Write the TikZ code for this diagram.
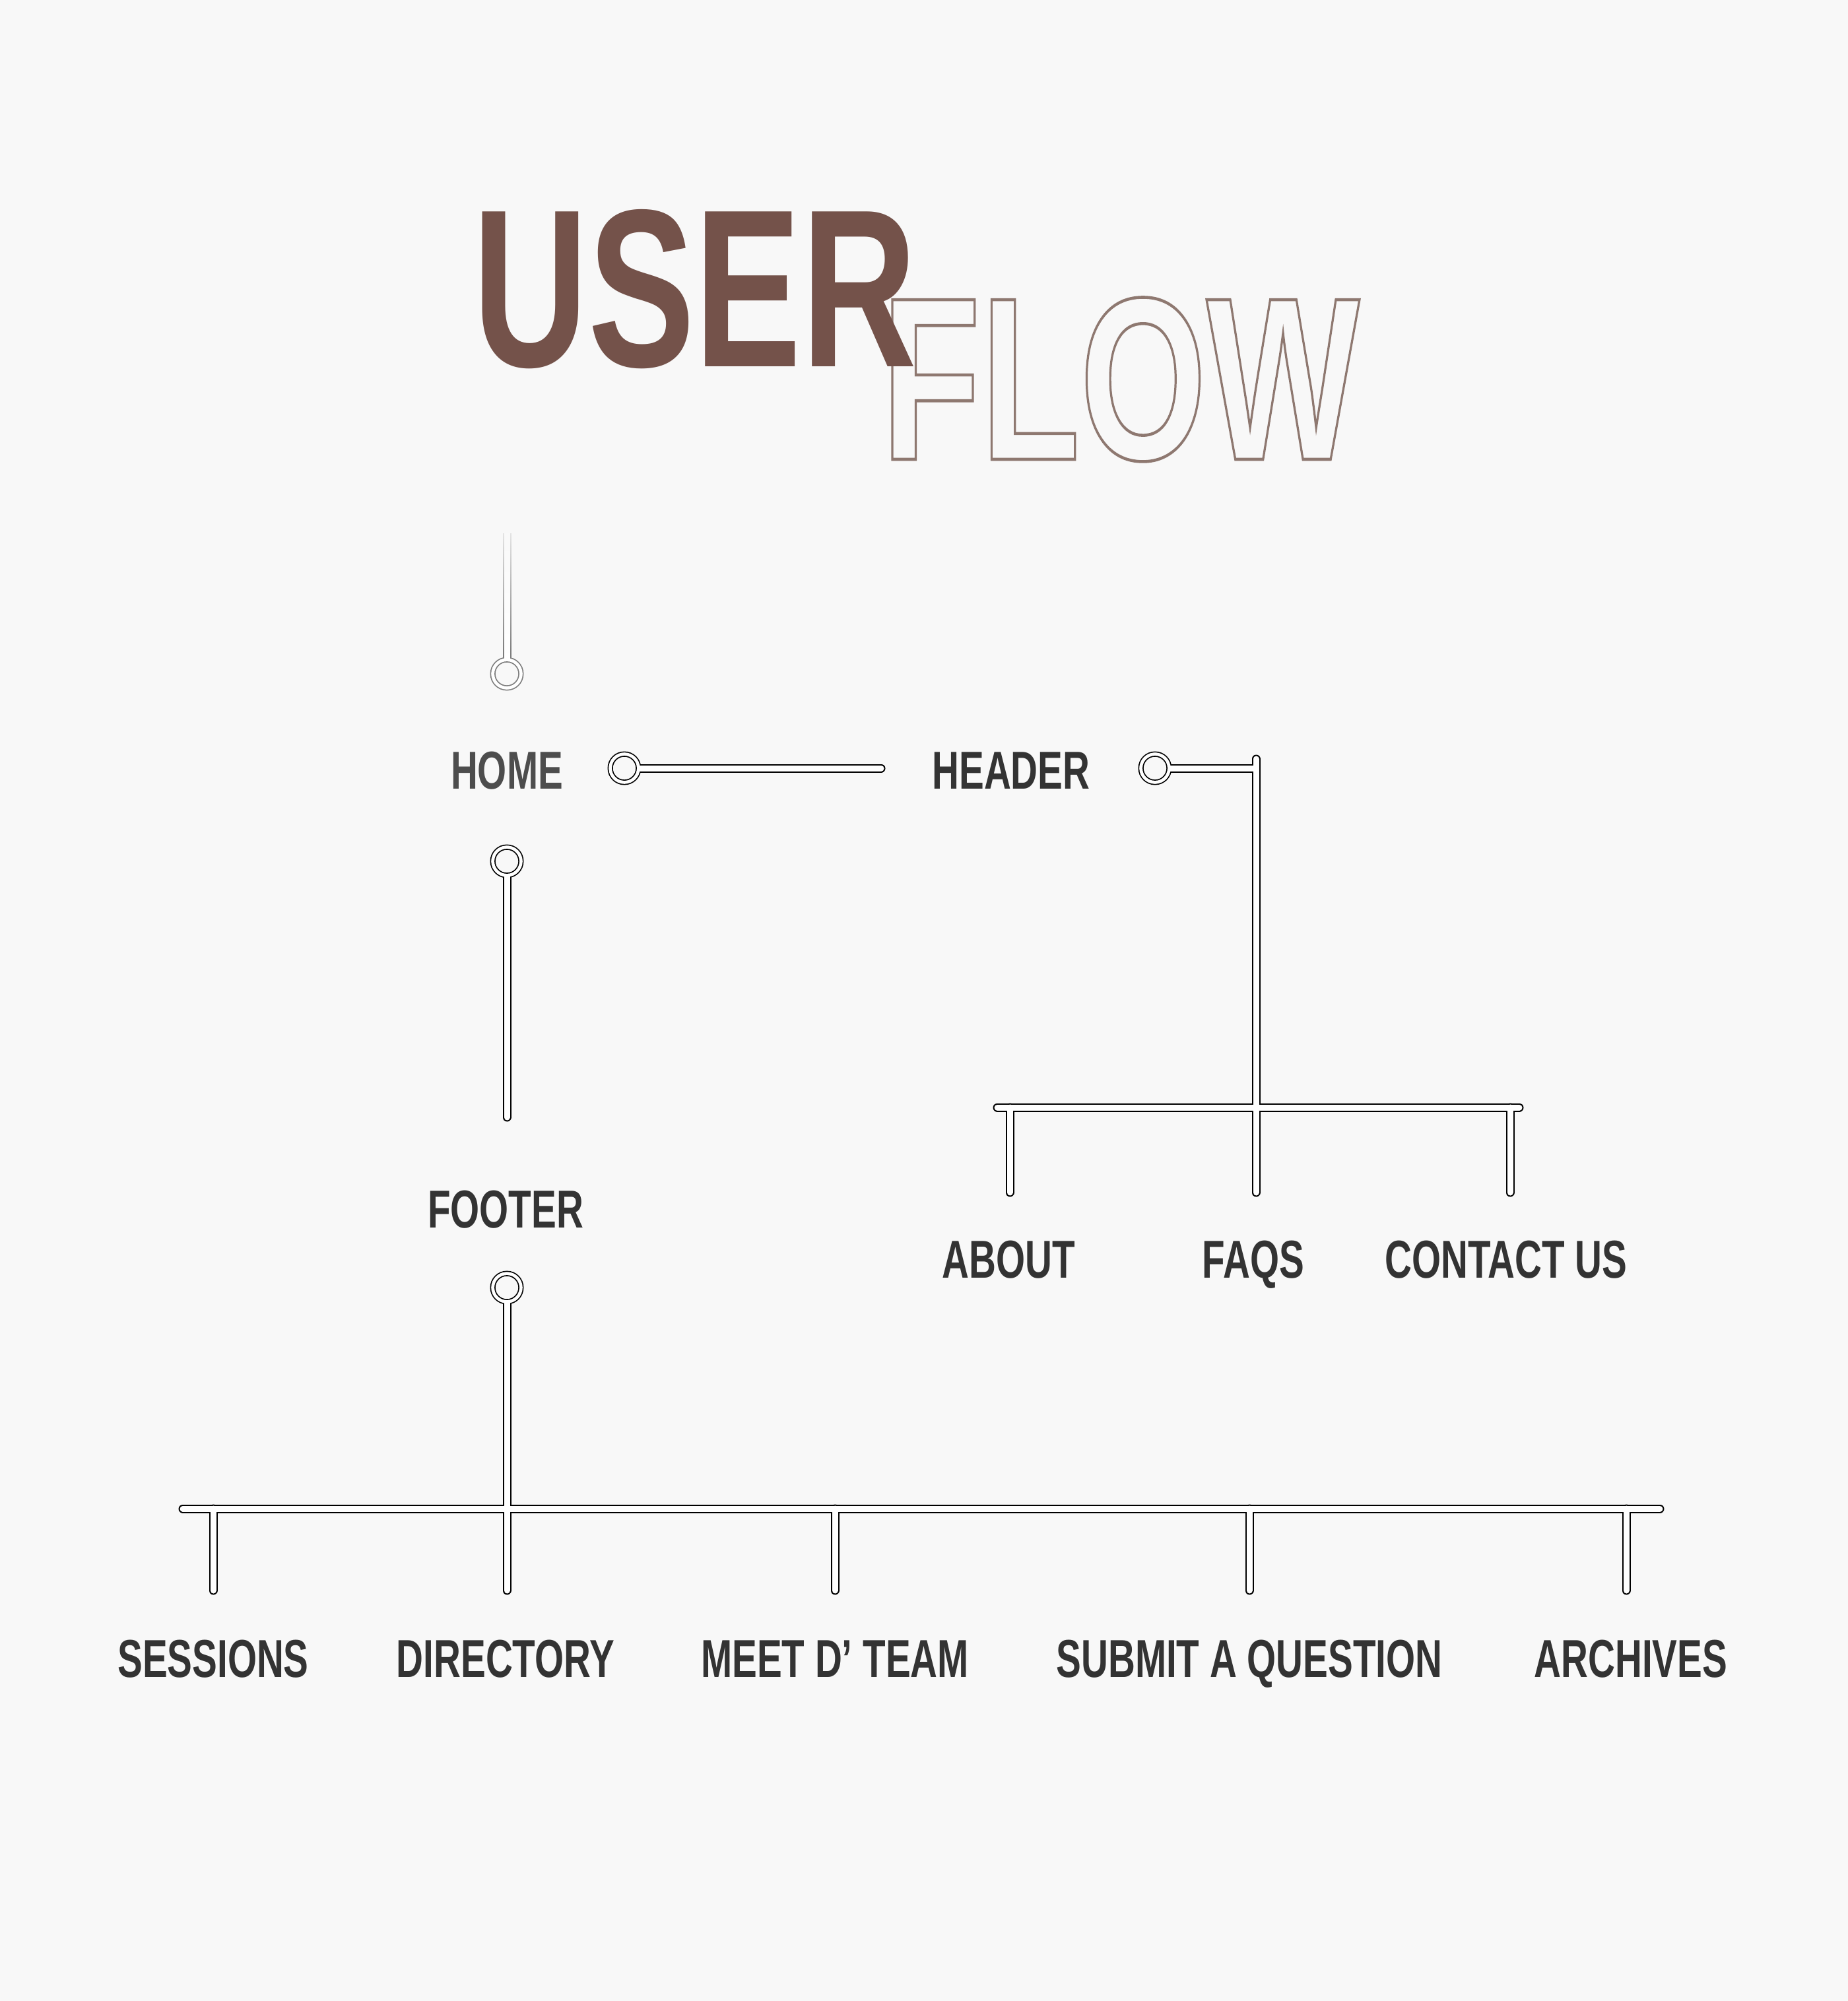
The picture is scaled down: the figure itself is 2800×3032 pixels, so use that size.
\documentclass[tikz,border=0pt]{standalone}
\usepackage{fontspec}
\setmainfont{Liberation Sans}
\usepackage{xcolor}
\usepackage{tikz}
\usetikzlibrary{positioning,fadings}
\definecolor{pagebg}{HTML}{F8F8F8}
\definecolor{userbrown}{HTML}{74524A}
\definecolor{flowline}{HTML}{8E7870}
\definecolor{labeltext}{HTML}{333333}
\definecolor{homegray}{HTML}{4D4D4D}
\definecolor{stemgray}{HTML}{7C7C7C}
\tikzfading[name=stemfade, top color=transparent!15, bottom color=transparent!100]
%% outlined letters: stroke only
\newcommand{\outlinetext}[1]{\special{pdf:code 1 Tr 1.3 w}#1\special{pdf:code 0 Tr 0.4 w}}

\begin{document}
\begin{tikzpicture}[x=0.01cm, y=-0.01cm,
		flowlabel/.style={font=\fontsize{23}{23}\selectfont\bfseries, text=labeltext, xscale=0.7, inner sep=0pt, anchor=base},
		titletext/.style={font=\fontsize{97}{97}\selectfont\bfseries, inner sep=0pt, anchor=base west}]
	\useasboundingbox[fill=pagebg] (0,0) rectangle (2800,3032);
	
	%% title
	\node[titletext, font=\fontsize{100}{100}\selectfont\bfseries, xscale=0.7, text=flowline] (flow) at (1335,696) {\outlinetext{FLOW}};
	\node[titletext, xscale=0.71, text=userbrown] (user) at (716,555) {USER};
	
	%% labels
	\node[flowlabel, text=homegray] (home) at (768,1195) {HOME};
	\node[flowlabel] (header) at (1532,1195) {HEADER};
	\node[flowlabel] (footer) at (766,1860) {FOOTER};
	\node[flowlabel] (about) at (1528,1936) {ABOUT};
	\node[flowlabel] (faqs) at (1899,1936) {FAQS};
	\node[flowlabel] (contact) at (2282,1936) {CONTACT US};
	\node[flowlabel] (sessions) at (323,2541) {SESSIONS};
	\node[flowlabel] (directory) at (766,2541) {DIRECTORY};
	\node[flowlabel] (meet) at (1265,2541) {MEET D’ TEAM};
	\node[flowlabel] (submit) at (1893,2541) {SUBMIT A QUESTION};
	\node[flowlabel] (archives) at (2471,2541) {ARCHIVES};
	
	%% ring centres and pipe ends
	\coordinate (topend) at (768,808);
	\coordinate (topring) at (768,1021);
	\coordinate (homering) at (946,1164);
	\coordinate (homeend) at (1335,1164);
	\coordinate (headring) at (1750,1164);
	\coordinate (headtop) at (1903,1150);
	\coordinate (headbarl) at (1511,1678);
	\coordinate (headbarr) at (2302,1678);
	\coordinate (downring) at (768,1305);
	\coordinate (downend) at (768,1693);
	\coordinate (footring) at (768,1951);
	\coordinate (footbarl) at (277,2286);
	\coordinate (footbarr) at (2515,2286);
	\foreach \n/\x in {about/1530,faqs/1903,contact/2288}
		\coordinate (\n-end) at (\x,1807);
	\foreach \n/\x in {sessions/323,directory/768,meet/1265,submit/1893,archives/2464}
		\coordinate (\n-end) at (\x,2410);
	
	%% tubes: outline first, then the white inside
	\foreach \w/\r/\c/\g in {13/25.5/black/stemgray, 9/23.8/white/white} {
		\draw[line width=\w*0.01cm, \g] (topend) -- (topring);
		\fill[\g] (topring) circle (\r);
		\draw[line width=\w*0.01cm, line cap=round, \c] (homering) -- (homeend)
			(headring) -- (headtop |- headring) (headtop) -- (faqs-end)
			(headbarl) -- (headbarr)
			(about-end) -- (about-end |- headbarl) (contact-end) -- (contact-end |- headbarl)
			(downring) -- (downend)
			(footring) -- (directory-end)
			(footbarl) -- (footbarr)
			(sessions-end) -- (sessions-end |- footbarl) (meet-end) -- (meet-end |- footbarl)
			(submit-end) -- (submit-end |- footbarl) (archives-end) -- (archives-end |- footbarl);
		\foreach \n in {homering,headring,downring,footring}
			\fill[\c] (\n) circle (\r);
	}
	%% the top stem fades out upwards
	\fill[pagebg, path fading=stemfade] (748,806) rectangle (788,990);
	%% holes of the rings
	\draw[draw=stemgray, fill=pagebg, line width=0.016cm] (topring) circle (18.1);
	\foreach \n in {homering,headring,downring,footring}
		\draw[fill=pagebg, line width=0.016cm] (\n) circle (18.1);
\end{tikzpicture}
\end{document}
